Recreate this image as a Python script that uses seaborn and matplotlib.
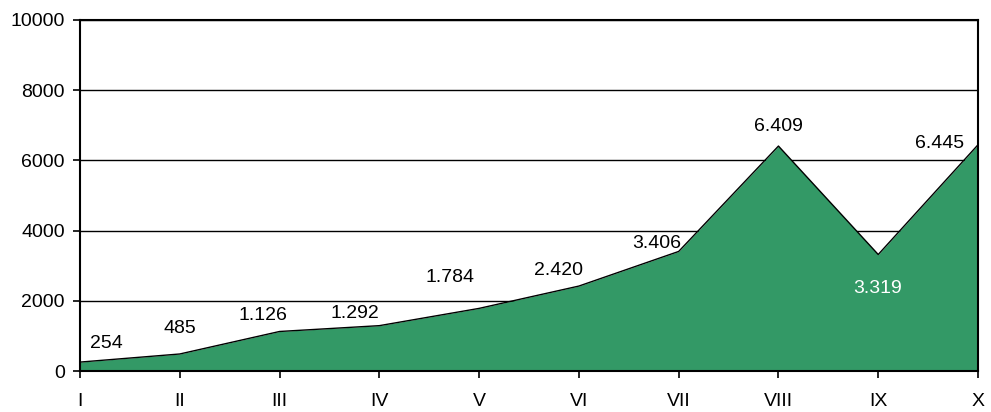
import matplotlib
matplotlib.use('Agg')
import matplotlib.pyplot as plt
import seaborn as sns
import pandas as pd

# data
months = ['I', 'II', 'III', 'IV', 'V', 'VI', 'VII', 'VIII', 'IX', 'X']
values = [254, 485, 1126, 1292, 1784, 2420, 3406, 6409, 3319, 6445]
labels = ['254', '485', '1.126', '1.292', '1.784', '2.420', '3.406', '6.409', '3.319', '6.445']
y_ticks = [0, 2000, 4000, 6000, 8000, 10000]

# label offsets in pixels (dx, dy) and colours
label_off = [(26, 19), (0, 25), (-17, 16), (-24, 12), (-29, 31),
             (-20, 16), (-22, 8), (0, 20), (-1, -34), (-38, 1)]
label_col = ['black'] * 8 + ['white', 'black']

sns.set_style('white')
plt.rcParams['font.family'] = ['Liberation Sans', 'DejaVu Sans']

df = pd.DataFrame({'x': range(len(months)), 'y': values})

fig = plt.figure(figsize=(9.91, 4.12), dpi=100)
ax = fig.add_axes([80 / 991, 41 / 412, 898 / 991, 351 / 412])

green = '#339966'
ax.fill_between(df['x'], 0, df['y'], color=green, zorder=2, linewidth=0)
sns.lineplot(data=df, x='x', y='y', color='black', linewidth=1.0, ax=ax, zorder=3)

for yt in y_ticks[1:]:
    ax.axhline(yt, color='black', linewidth=1.0, zorder=1)

for i, (v, lab) in enumerate(zip(values, labels)):
    dx, dy = label_off[i]
    ax.annotate(lab, (i, v), xytext=(dx * 0.72, dy * 0.72), textcoords='offset points',
                ha='center', va='center', fontsize=14, color=label_col[i], zorder=4)

ax.set_xlim(0, len(months) - 1)
ax.set_ylim(0, 10000)
ax.set_xticks(range(len(months)))
ax.set_xticklabels(months)
ax.set_yticks(y_ticks)
ax.set_xlabel('')
ax.set_ylabel('')
ax.tick_params(axis='both', labelsize=14, colors='black', direction='out',
               length=5, width=1.2, bottom=True, left=True)
ax.tick_params(axis='x', pad=11)
ax.tick_params(axis='y', pad=6)

for s in ax.spines.values():
    s.set_color('black')
    s.set_linewidth(1.5)
    s.set_zorder(5)

fig.savefig('out.png', dpi=100)
